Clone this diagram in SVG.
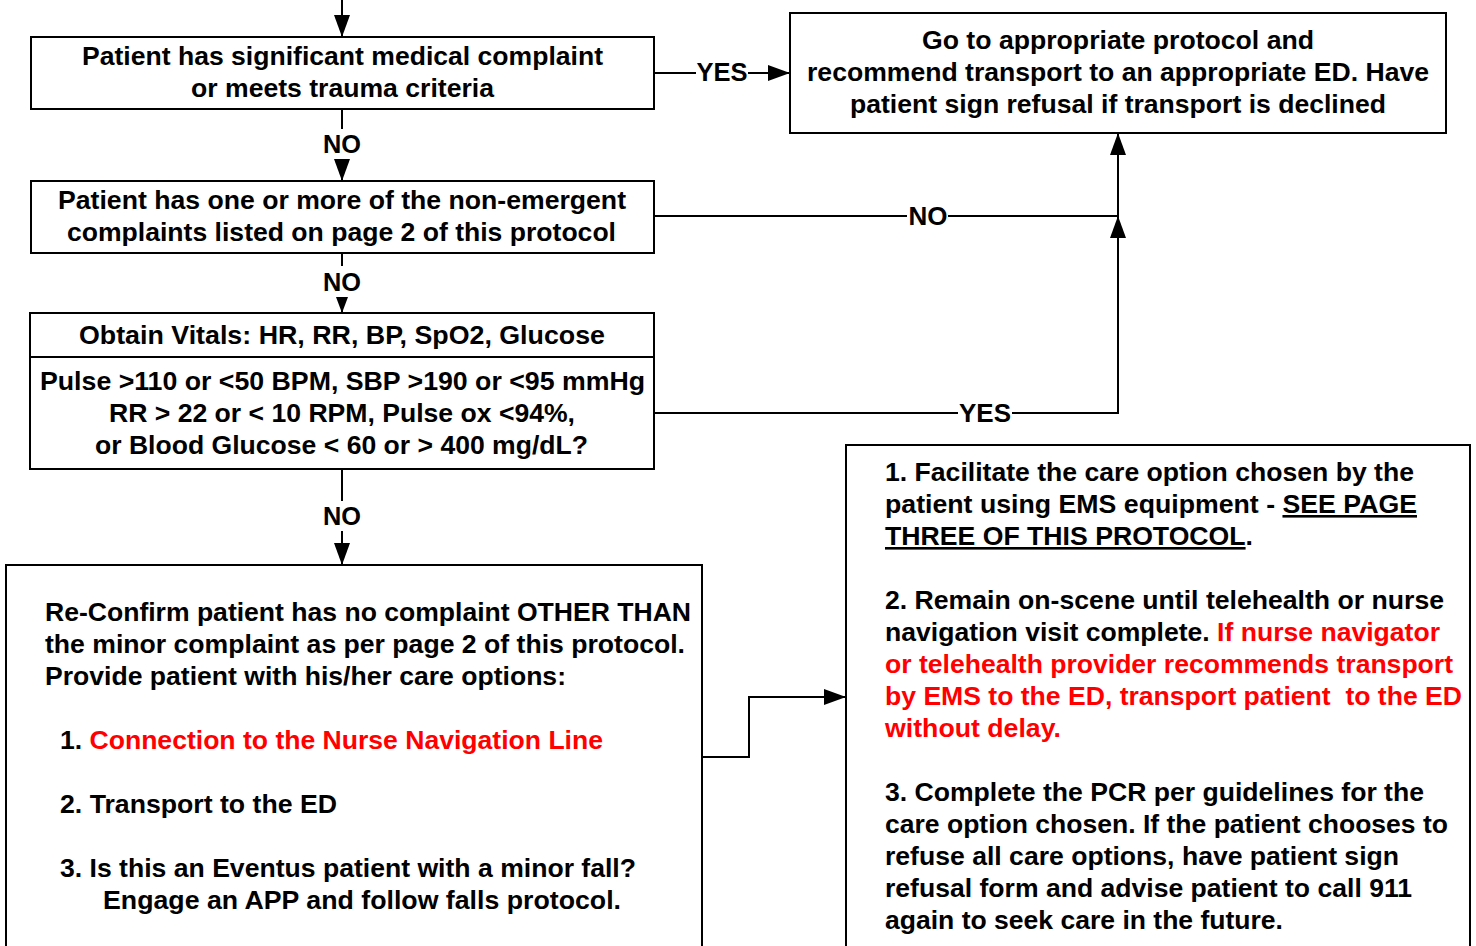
<svg xmlns="http://www.w3.org/2000/svg" width="1476" height="946" viewBox="0 0 1476 946">
  <defs>
    <style>
      .box { fill: #ffffff; stroke: #000000; stroke-width: 2; }
      .wire { fill: none; stroke: #000000; stroke-width: 2; }
      .t { font-family: "Liberation Sans", Arial, sans-serif; font-weight: bold; font-size: 26px; fill: #000000; }
      .c { text-anchor: middle; }
      .red { fill: #ff0000; }
      .u { text-decoration: underline; }
    </style>
    <marker id="arrow" markerUnits="userSpaceOnUse" markerWidth="22" markerHeight="16" viewBox="0 0 22 16" refX="22" refY="8" orient="auto">
      <path d="M0,0 L22,8 L0,16 Z" fill="#000000"/>
    </marker>
    <marker id="arrow-small" markerUnits="userSpaceOnUse" markerWidth="16" markerHeight="12" viewBox="0 0 16 12" refX="16" refY="6" orient="auto">
      <path d="M0,0 L16,6 L0,12 Z" fill="#000000"/>
    </marker>
  </defs>

  <rect width="1476" height="946" fill="#ffffff"/>

  <!-- connectors -->
  <g id="connectors">
    <line class="wire" x1="342" y1="0" x2="342" y2="37" marker-end="url(#arrow)"/>
    <line class="wire" x1="342" y1="109" x2="342" y2="129"/>
    <text class="t c" x="342" y="153" textLength="38" lengthAdjust="spacingAndGlyphs">NO</text>
    <line class="wire" x1="342" y1="160" x2="342" y2="181" marker-end="url(#arrow)"/>
    <line class="wire" x1="342" y1="253" x2="342" y2="266"/>
    <text class="t c" x="342" y="291" textLength="38" lengthAdjust="spacingAndGlyphs">NO</text>
    <line class="wire" x1="342" y1="297" x2="342" y2="313" marker-end="url(#arrow-small)"/>
    <line class="wire" x1="342" y1="469" x2="342" y2="501"/>
    <text class="t c" x="342" y="525" textLength="38" lengthAdjust="spacingAndGlyphs">NO</text>
    <line class="wire" x1="342" y1="531" x2="342" y2="565" marker-end="url(#arrow)"/>

    <line class="wire" x1="654" y1="73" x2="696" y2="73"/>
    <text class="t c" x="722" y="81" textLength="51" lengthAdjust="spacingAndGlyphs">YES</text>
    <line class="wire" x1="748" y1="73" x2="790" y2="73" marker-end="url(#arrow)"/>

    <line class="wire" x1="654" y1="216" x2="907" y2="216"/>
    <text class="t c" x="928" y="225" textLength="39" lengthAdjust="spacingAndGlyphs">NO</text>
    <line class="wire" x1="948" y1="216" x2="1118" y2="216"/>

    <line class="wire" x1="654" y1="413" x2="958" y2="413"/>
    <text class="t c" x="985" y="422" textLength="52" lengthAdjust="spacingAndGlyphs">YES</text>
    <polyline class="wire" points="1012,413 1118,413 1118,216" marker-end="url(#arrow)"/>
    <line class="wire" x1="1118" y1="216" x2="1118" y2="133" marker-end="url(#arrow)"/>

    <polyline class="wire" points="702,757 749,757 749,697 846,697" marker-end="url(#arrow)"/>
  </g>

  <!-- significant complaint decision -->
  <g id="node-significant">
    <rect class="box" x="31" y="37" width="623" height="72"/>
    <text class="t c" x="342.5" y="65" textLength="521" lengthAdjust="spacingAndGlyphs">Patient has significant medical complaint</text>
    <text class="t c" x="342.5" y="97" textLength="303" lengthAdjust="spacingAndGlyphs">or meets trauma criteria</text>
  </g>

  <!-- appropriate protocol outcome -->
  <g id="node-protocol">
    <rect class="box" x="790" y="13" width="656" height="120"/>
    <text class="t c" x="1118" y="49" textLength="392" lengthAdjust="spacingAndGlyphs">Go to appropriate protocol and</text>
    <text class="t c" x="1118" y="81" textLength="622" lengthAdjust="spacingAndGlyphs">recommend transport to an appropriate ED. Have</text>
    <text class="t c" x="1118" y="113" textLength="536" lengthAdjust="spacingAndGlyphs">patient sign refusal if transport is declined</text>
  </g>

  <!-- non-emergent complaint decision -->
  <g id="node-nonemergent">
    <rect class="box" x="31" y="181" width="623" height="72"/>
    <text class="t c" x="342" y="209" textLength="568" lengthAdjust="spacingAndGlyphs">Patient has one or more of the non-emergent</text>
    <text class="t c" x="341.5" y="241" textLength="549" lengthAdjust="spacingAndGlyphs">complaints listed on page 2 of this protocol</text>
  </g>

  <!-- vitals decision -->
  <g id="node-vitals">
    <rect class="box" x="30" y="313" width="624" height="156"/>
    <line class="wire" x1="30" y1="357" x2="654" y2="357"/>
    <text class="t c" x="342" y="344" textLength="526" lengthAdjust="spacingAndGlyphs">Obtain Vitals: HR, RR, BP, SpO2, Glucose</text>
    <text class="t c" x="342.5" y="390" textLength="605" lengthAdjust="spacingAndGlyphs">Pulse &gt;110 or &lt;50 BPM, SBP &gt;190 or &lt;95 mmHg</text>
    <text class="t c" x="342" y="422" textLength="466" lengthAdjust="spacingAndGlyphs">RR &gt; 22 or &lt; 10 RPM, Pulse ox &lt;94%,</text>
    <text class="t c" x="341.5" y="454" textLength="493" lengthAdjust="spacingAndGlyphs">or Blood Glucose &lt; 60 or &gt; 400 mg/dL?</text>
  </g>

  <!-- care options -->
  <g id="node-options">
    <rect class="box" x="6" y="565" width="696" height="400"/>
    <text class="t" x="45" y="621" textLength="646" lengthAdjust="spacingAndGlyphs">Re-Confirm patient has no complaint OTHER THAN</text>
    <text class="t" x="45" y="653" textLength="640" lengthAdjust="spacingAndGlyphs">the minor complaint as per page 2 of this protocol.</text>
    <text class="t" x="45" y="685" textLength="521" lengthAdjust="spacingAndGlyphs">Provide patient with his/her care options:</text>
    <text class="t" x="60" y="749" textLength="543" lengthAdjust="spacingAndGlyphs">1. <tspan class="red">Connection to the Nurse Navigation Line</tspan></text>
    <text class="t" x="60" y="813" textLength="277" lengthAdjust="spacingAndGlyphs">2. Transport to the ED</text>
    <text class="t" x="60" y="877" textLength="576" lengthAdjust="spacingAndGlyphs">3. Is this an Eventus patient with a minor fall?</text>
    <text class="t" x="103" y="909" textLength="518" lengthAdjust="spacingAndGlyphs">Engage an APP and follow falls protocol.</text>
  </g>

  <!-- facilitation steps -->
  <g id="node-facilitate">
    <rect class="box" x="846" y="445" width="624" height="520"/>
    <text class="t" x="885" y="481" textLength="529" lengthAdjust="spacingAndGlyphs">1. Facilitate the care option chosen by the</text>
    <text class="t" x="885" y="513" textLength="532" lengthAdjust="spacingAndGlyphs">patient using EMS equipment - <tspan class="u">SEE PAGE</tspan></text>
    <text class="t" x="885" y="545" textLength="368" lengthAdjust="spacingAndGlyphs"><tspan class="u">THREE OF THIS PROTOCOL</tspan>.</text>
    <text class="t" x="885" y="609" textLength="559" lengthAdjust="spacingAndGlyphs">2. Remain on-scene until telehealth or nurse</text>
    <text class="t" x="885" y="641" textLength="555" lengthAdjust="spacingAndGlyphs">navigation visit complete. <tspan class="red">If nurse navigator</tspan></text>
    <text class="t red" x="885" y="673" textLength="568" lengthAdjust="spacingAndGlyphs">or telehealth provider recommends transport</text>
    <text class="t red" x="885" y="705" textLength="577" lengthAdjust="spacingAndGlyphs" xml:space="preserve">by EMS to the ED, transport patient  to the ED</text>
    <text class="t red" x="885" y="737" textLength="176" lengthAdjust="spacingAndGlyphs">without delay.</text>
    <text class="t" x="885" y="801" textLength="539" lengthAdjust="spacingAndGlyphs">3. Complete the PCR per guidelines for the</text>
    <text class="t" x="885" y="833" textLength="563" lengthAdjust="spacingAndGlyphs">care option chosen. If the patient chooses to</text>
    <text class="t" x="885" y="865" textLength="514" lengthAdjust="spacingAndGlyphs">refuse all care options, have patient sign</text>
    <text class="t" x="885" y="897" textLength="527" lengthAdjust="spacingAndGlyphs">refusal form and advise patient to call 911</text>
    <text class="t" x="885" y="929" textLength="398" lengthAdjust="spacingAndGlyphs">again to seek care in the future.</text>
  </g>
</svg>
